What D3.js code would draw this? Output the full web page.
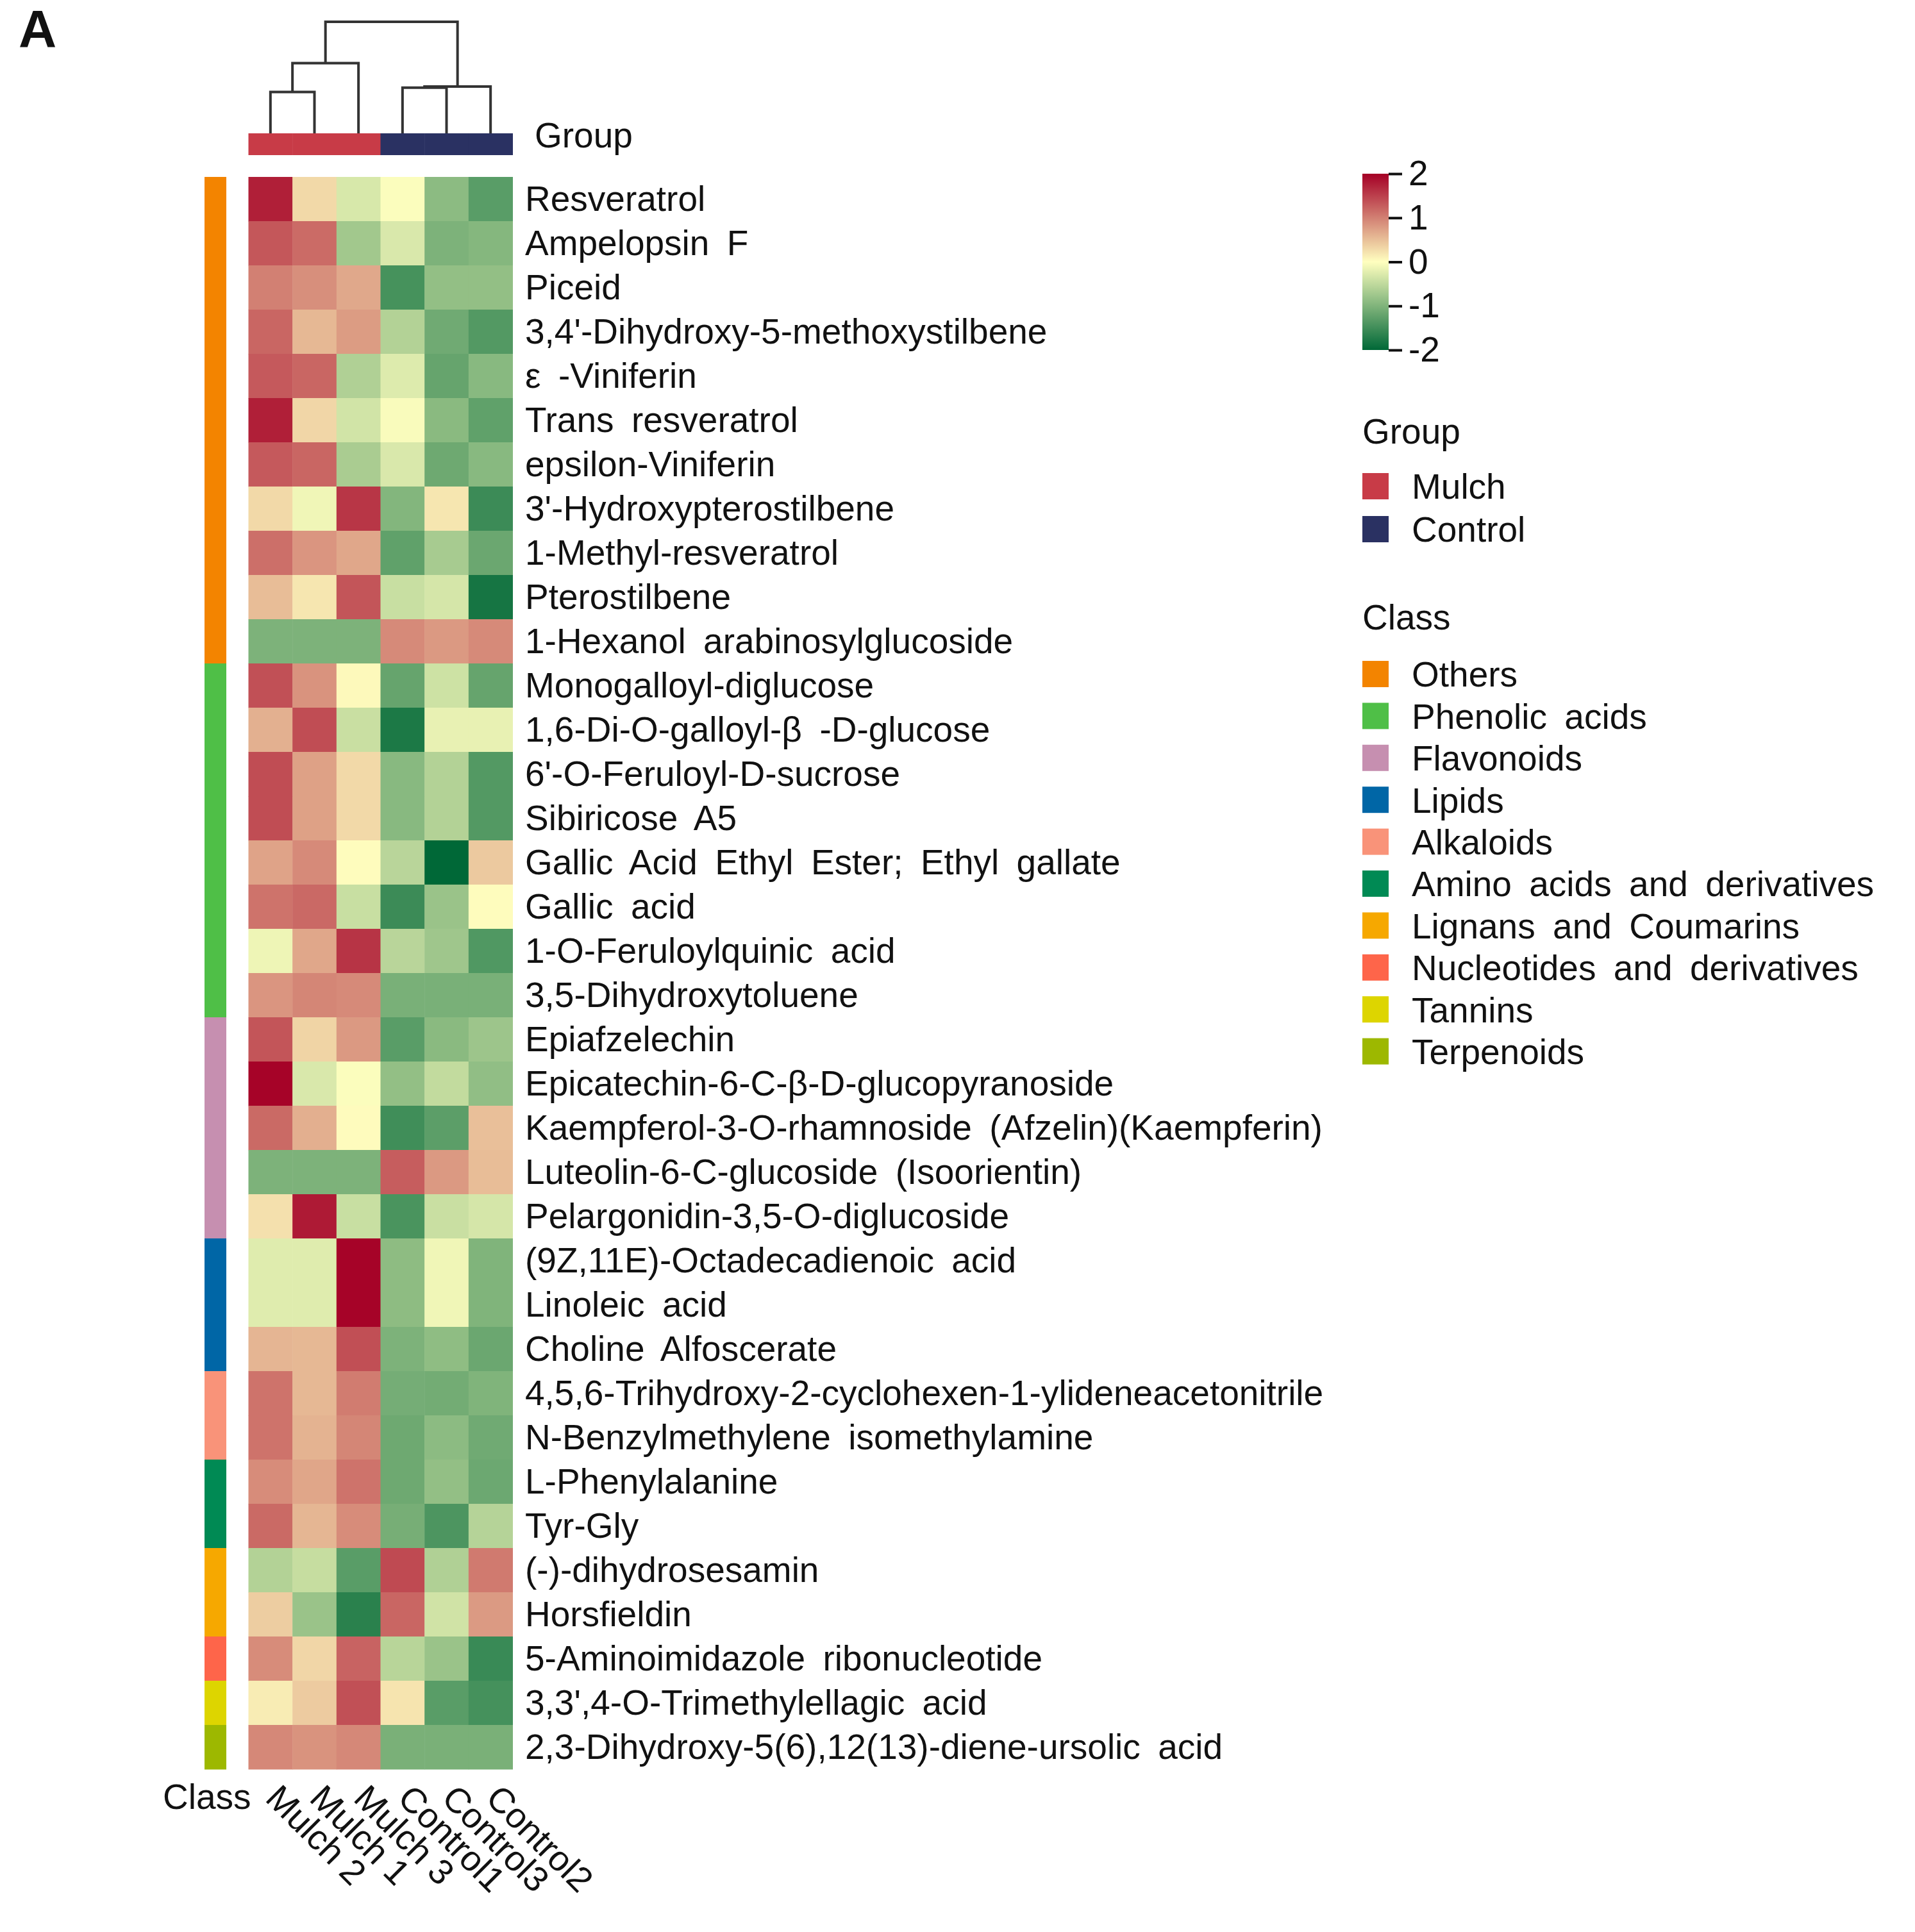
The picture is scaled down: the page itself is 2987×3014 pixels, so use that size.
<!DOCTYPE html>
<html>
<head>
<meta charset="utf-8">
<script src="https://cdn.jsdelivr.net/npm/d3@7"></script>
<style>
  body { margin: 0; background: #fff; }
  text { font-family: "Liberation Sans", Arial, sans-serif; fill: #111; }
  .lbl { white-space: pre; word-spacing: 0.22em; }
</style>
</head>
<body>
<svg id="svgHeat" width="2987" height="3014"></svg>
<script>
// samples in the clustered order
var samples = ["Mulch 2", "Mulch 1", "Mulch 3", "Control1", "Control3", "Control2"]
var sampleGroup = ["Mulch", "Mulch", "Mulch", "Control", "Control", "Control"]

var compounds = [
  "Resveratrol", "Ampelopsin F", "Piceid", "3,4'-Dihydroxy-5-methoxystilbene",
  "ε -Viniferin", "Trans resveratrol", "epsilon-Viniferin", "3'-Hydroxypterostilbene",
  "1-Methyl-resveratrol", "Pterostilbene", "1-Hexanol arabinosylglucoside",
  "Monogalloyl-diglucose", "1,6-Di-O-galloyl-β -D-glucose", "6'-O-Feruloyl-D-sucrose",
  "Sibiricose A5", "Gallic Acid Ethyl Ester; Ethyl gallate", "Gallic acid",
  "1-O-Feruloylquinic acid", "3,5-Dihydroxytoluene", "Epiafzelechin",
  "Epicatechin-6-C-β-D-glucopyranoside", "Kaempferol-3-O-rhamnoside (Afzelin)(Kaempferin)",
  "Luteolin-6-C-glucoside (Isoorientin)", "Pelargonidin-3,5-O-diglucoside",
  "(9Z,11E)-Octadecadienoic acid", "Linoleic acid", "Choline Alfoscerate",
  "4,5,6-Trihydroxy-2-cyclohexen-1-ylideneacetonitrile", "N-Benzylmethylene isomethylamine",
  "L-Phenylalanine", "Tyr-Gly", "(-)-dihydrosesamin", "Horsfieldin",
  "5-Aminoimidazole ribonucleotide", "3,3',4-O-Trimethylellagic acid",
  "2,3-Dihydroxy-5(6),12(13)-diene-ursolic acid"
]

var compoundClass = [
  "Others", "Others", "Others", "Others", "Others", "Others", "Others", "Others", "Others", "Others", "Others",
  "Phenolic acids", "Phenolic acids", "Phenolic acids", "Phenolic acids", "Phenolic acids", "Phenolic acids", "Phenolic acids", "Phenolic acids",
  "Flavonoids", "Flavonoids", "Flavonoids", "Flavonoids", "Flavonoids",
  "Lipids", "Lipids", "Lipids",
  "Alkaloids", "Alkaloids",
  "Amino acids and derivatives", "Amino acids and derivatives",
  "Lignans and Coumarins", "Lignans and Coumarins",
  "Nucleotides and derivatives",
  "Tannins",
  "Terpenoids"
]

// row z-scores, columns follow `samples`
var zscores = [
  [1.76, 0.30, -0.31, -0.03, -0.90, -1.30],
  [1.32, 1.16, -0.73, -0.30, -1.02, -0.96],
  [1.00, 0.88, 0.68, -1.45, -0.85, -0.85],
  [1.20, 0.56, 0.78, -0.60, -1.12, -1.35],
  [1.30, 1.20, -0.62, -0.27, -1.20, -0.93],
  [1.76, 0.32, -0.36, -0.05, -0.92, -1.25],
  [1.30, 1.20, -0.67, -0.30, -1.14, -0.93],
  [0.30, -0.12, 1.58, -0.97, 0.20, -1.53],
  [1.13, 0.83, 0.69, -1.25, -0.69, -1.16],
  [0.52, 0.20, 1.33, -0.43, -0.33, -1.83],
  [-1.02, -1.02, -1.02, 0.92, 0.80, 0.92],
  [1.37, 0.85, 0.05, -1.20, -0.39, -1.20],
  [0.62, 1.40, -0.42, -1.78, -0.18, -0.18],
  [1.40, 0.74, 0.30, -0.93, -0.60, -1.35],
  [1.40, 0.74, 0.30, -0.93, -0.60, -1.35],
  [0.72, 0.92, 0.02, -0.55, -2.00, 0.42],
  [1.10, 1.18, -0.43, -1.53, -0.79, 0.02],
  [-0.13, 0.69, 1.59, -0.55, -0.75, -1.37],
  [0.83, 0.95, 0.92, -1.05, -1.05, -1.05],
  [1.33, 0.34, 0.80, -1.30, -0.92, -0.77],
  [1.98, -0.30, -0.03, -0.85, -0.48, -0.86],
  [1.17, 0.63, 0.03, -1.50, -1.28, 0.50],
  [-1.02, -1.02, -1.02, 1.27, 0.80, 0.52],
  [0.24, 1.80, -0.43, -1.42, -0.42, -0.33],
  [-0.25, -0.25, 1.98, -0.89, -0.12, -1.00],
  [-0.25, -0.25, 1.98, -0.89, -0.12, -1.00],
  [0.58, 0.56, 1.38, -1.02, -0.88, -1.16],
  [1.10, 0.56, 1.03, -1.08, -1.10, -1.00],
  [1.10, 0.60, 0.95, -1.14, -0.90, -1.12],
  [0.90, 0.70, 1.10, -1.14, -0.85, -1.15],
  [1.17, 0.57, 0.90, -1.07, -1.40, -0.58],
  [-0.60, -0.45, -1.30, 1.42, -0.62, 1.04],
  [0.39, -0.79, -1.67, 1.20, -0.37, 0.79],
  [0.90, 0.32, 1.22, -0.56, -0.79, -1.55],
  [0.15, 0.41, 1.37, 0.21, -1.30, -1.46],
  [0.93, 0.85, 0.93, -1.04, -1.04, -1.04]
]

// column dendrogram, merge heights in arbitrary distance units
var colTree = { h: 10, children: [
  { h: 6.3, children: [ { h: 3.7, children: [ { name: "Mulch 2" }, { name: "Mulch 1" } ] }, { name: "Mulch 3" } ] },
  { h: 4.2, children: [ { h: 4.1, children: [ { name: "Control1" }, { name: "Control3" } ] }, { name: "Control2" } ] }
] }

var groupNames = ["Mulch", "Control"]
var groupColors = ["#C83B47", "#2A3162"]
var classNames = ["Others", "Phenolic acids", "Flavonoids", "Lipids", "Alkaloids",
  "Amino acids and derivatives", "Lignans and Coumarins", "Nucleotides and derivatives",
  "Tannins", "Terpenoids"]
var classColors = ["#F38400", "#4FBF47", "#C68FB0", "#0066A6", "#F99379",
  "#008A54", "#F6A800", "#FE654A", "#DDD500", "#9DB800"]

var legendTicks = [2, 1, 0, -1, -2]

var svg = d3.select("#svgHeat")
var fs = 55

var X_scale = d3.scaleBand().domain(samples).range([387.5, 799.5])
var Y_scale = d3.scaleBand().domain(compounds).range([276, 2760])
var colorScale = d3.scaleLinear().domain([-2, 0, 2]).range(["#006837", "#FFFFBF", "#A50026"]).clamp(true)
var groupScale = d3.scaleOrdinal().domain(groupNames).range(groupColors)
var classScale = d3.scaleOrdinal().domain(classNames).range(classColors)

// panel letter
svg.append("text").attr("x", 29).attr("y", 73)
  .style("font-size", "82px").style("font-weight", "bold").text("A")

// heatmap cells
var cells = []
zscores.forEach(function (row, i) {
  row.forEach(function (v, j) { cells.push({ r: compounds[i], c: samples[j], v: v }) })
})
svg.append("g").selectAll("rect")
  .data(cells)
  .join("rect")
  .attr("x", function (d) { return X_scale(d.c) })
  .attr("y", function (d) { return Y_scale(d.r) })
  .attr("width", X_scale.bandwidth() + 0.5)
  .attr("height", Y_scale.bandwidth() + 0.5)
  .attr("fill", function (d) { return colorScale(d.v) })

// row labels
svg.append("g").selectAll("text")
  .data(compounds)
  .join("text")
  .attr("class", "lbl")
  .attr("x", 819)
  .attr("y", function (d) { return Y_scale(d) + Y_scale.bandwidth() / 2 })
  .attr("dy", "0.33em")
  .style("font-size", fs + "px")
  .text(function (d) { return d })

// class annotation
svg.append("g").selectAll("rect")
  .data(compounds)
  .join("rect")
  .attr("x", 319)
  .attr("width", 34)
  .attr("y", function (d) { return Y_scale(d) })
  .attr("height", Y_scale.bandwidth() + 0.5)
  .attr("fill", function (d, i) { return classScale(compoundClass[i]) })

svg.append("text").attr("x", 254).attr("y", 2822)
  .style("font-size", fs + "px").text("Class")

// group annotation
svg.append("g").selectAll("rect")
  .data(samples)
  .join("rect")
  .attr("x", function (d) { return X_scale(d) })
  .attr("width", X_scale.bandwidth() + 0.5)
  .attr("y", 208)
  .attr("height", 34)
  .attr("fill", function (d, i) { return groupScale(sampleGroup[i]) })

svg.append("text").attr("x", 834).attr("y", 230)
  .style("font-size", fs + "px").text("Group")

// column labels, rotated
svg.append("g").selectAll("text")
  .data(samples)
  .join("text")
  .attr("transform", function (d) {
    return `translate(${X_scale(d) + X_scale.bandwidth() / 2 + 4}, 2794) rotate(45)`
  })
  .attr("dy", "0.36em")
  .style("font-size", fs + "px")
  .text(function (d) { return d })

// dendrogram
var H_scale = d3.scaleLinear().domain([0, 10]).range([208, 34])
var root = d3.hierarchy(colTree)
root.eachAfter(function (n) {
  if (!n.children) {
    n.px = X_scale(n.data.name) + X_scale.bandwidth() / 2
    n.py = H_scale(0)
  } else {
    n.px = d3.mean(n.children, function (c) { return c.px })
    n.py = H_scale(n.data.h)
  }
})
var dendro = svg.append("g")
  .attr("fill", "none").attr("stroke", "#333").attr("stroke-width", 4)
root.each(function (n) {
  if (!n.children) return
  var a = n.children[0], b = n.children[1]
  dendro.append("path")
    .attr("d", `M${a.px},${a.py}V${n.py}H${b.px}V${b.py}`)
})

// colour key
var defs = svg.append("defs")
var grad = defs.append("linearGradient").attr("id", "keyGrad")
  .attr("x1", 0).attr("y1", 1).attr("x2", 0).attr("y2", 0)
d3.range(0, 1.0001, 0.05).forEach(function (t) {
  grad.append("stop").attr("offset", t).attr("stop-color", colorScale(-2 + 4 * t))
})
var K_scale = d3.scaleLinear().domain([2, -2]).range([271, 546])
svg.append("rect").attr("x", 2125).attr("y", 271).attr("width", 41).attr("height", 275)
  .attr("fill", "url(#keyGrad)")
var keyAxis = svg.append("g")
  .attr("transform", "translate(2166,0)")
  .call(d3.axisRight(K_scale).tickValues(legendTicks).tickSize(21).tickPadding(10)
    .tickFormat(function (d) { return String(d) }))
keyAxis.select(".domain").remove()
keyAxis.selectAll("line").attr("stroke", "#111").attr("stroke-width", 4)
keyAxis.selectAll("text").style("font-size", fs + "px")
  .style("font-family", "'Liberation Sans', Arial, sans-serif").attr("fill", "#111")

// group legend
svg.append("text").attr("x", 2125).attr("y", 692).style("font-size", fs + "px").text("Group")
var gLeg = svg.append("g").selectAll("g")
  .data(groupNames)
  .join("g")
  .attr("transform", function (d, i) { return `translate(2125, ${738 + i * 67})` })
gLeg.append("rect").attr("width", 41).attr("height", 41).attr("fill", function (d) { return groupScale(d) })
gLeg.append("text").attr("class", "lbl").attr("x", 77).attr("y", 20.5).attr("dy", "0.36em")
  .style("font-size", fs + "px").text(function (d) { return d })

// class legend
svg.append("text").attr("x", 2125).attr("y", 982).style("font-size", fs + "px").text("Class")
var cLeg = svg.append("g").selectAll("g")
  .data(classNames)
  .join("g")
  .attr("transform", function (d, i) { return `translate(2125, ${1031 + i * 65.4})` })
cLeg.append("rect").attr("width", 41).attr("height", 41).attr("fill", function (d) { return classScale(d) })
cLeg.append("text").attr("class", "lbl").attr("x", 77).attr("y", 20.5).attr("dy", "0.36em")
  .style("font-size", fs + "px").text(function (d) { return d })
</script>
</body>
</html>
